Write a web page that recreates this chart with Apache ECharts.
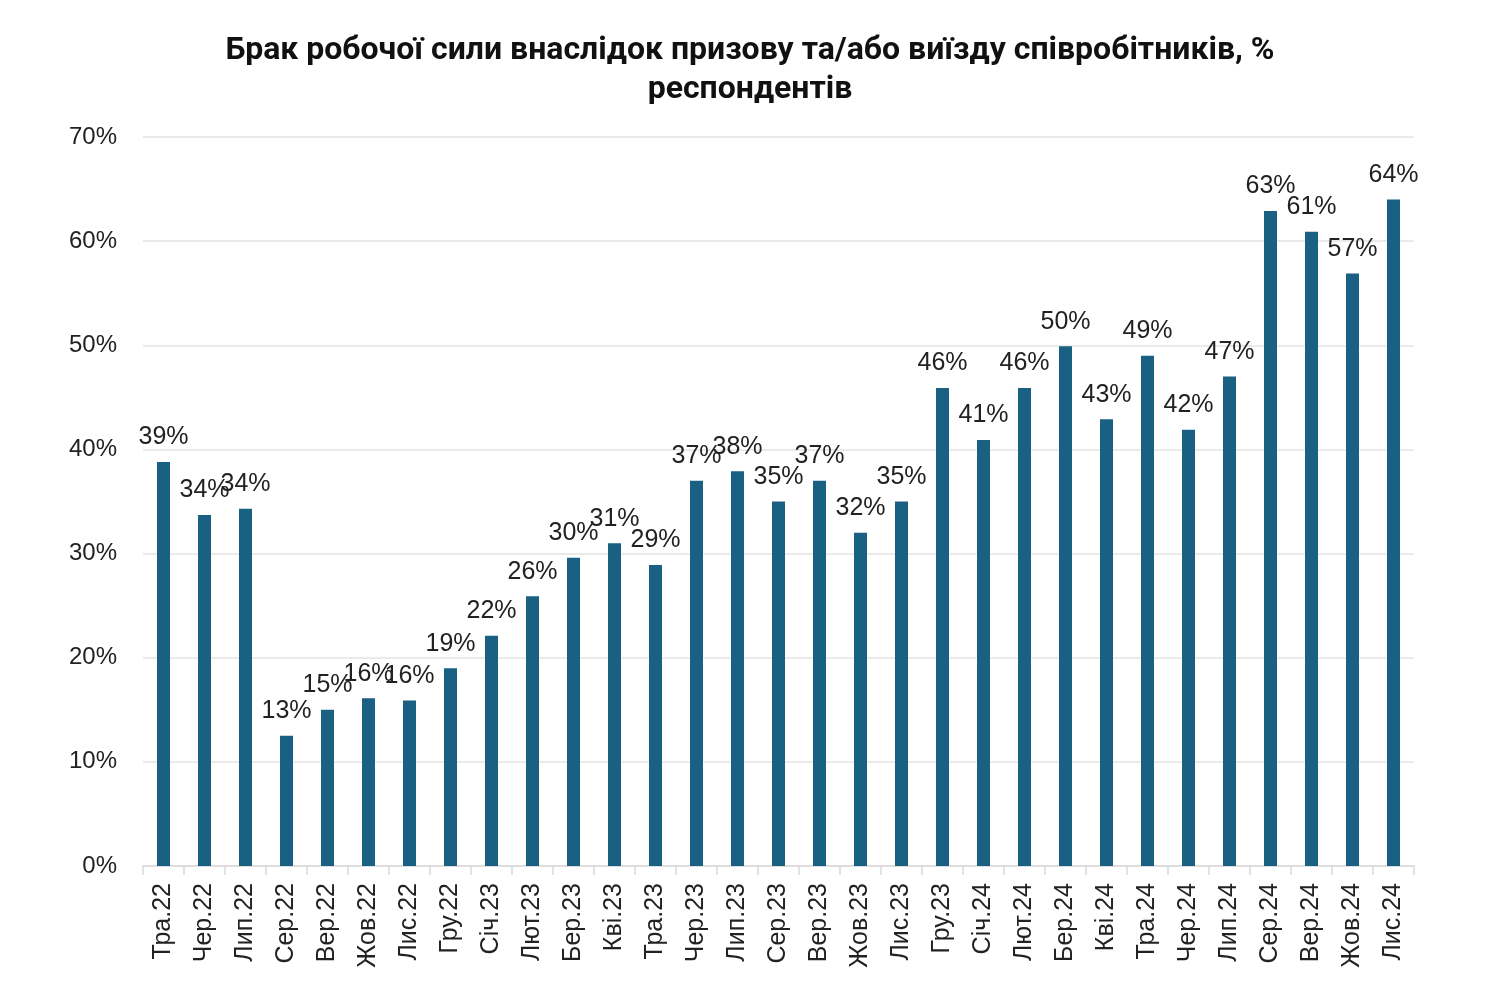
<!DOCTYPE html>
<html>
<head>
<meta charset="utf-8">
<script src="https://cdn.jsdelivr.net/npm/echarts@6/dist/echarts.min.js"></script>
<style>
html,body{margin:0;padding:0;background:#fff;}
#chart{width:1500px;height:985px;}
</style>
</head>
<body>
<div id="chart"></div>
<script>
const categories = ['Тра.22','Чер.22','Лип.22','Сер.22','Вер.22','Жов.22','Лис.22','Гру.22','Січ.23','Лют.23','Бер.23','Кві.23','Тра.23','Чер.23','Лип.23','Сер.23','Вер.23','Жов.23','Лис.23','Гру.23','Січ.24','Лют.24','Бер.24','Кві.24','Тра.24','Чер.24','Лип.24','Сер.24','Вер.24','Жов.24','Лис.24'];
const values = [38.8,33.7,34.3,12.5,15.0,16.1,15.9,19.0,22.1,25.9,29.6,31.0,28.9,37.0,37.9,35.0,37.0,32.0,35.0,45.9,40.9,45.9,49.9,42.9,49.0,41.9,47.0,62.9,60.9,56.9,64.0];
const titleText = 'Брак робочої сили внаслідок призову та/або виїзду співробітників, %\nреспондентів';

const chart = echarts.init(document.getElementById('chart'));
chart.setOption({
  backgroundColor: '#ffffff',
  animation: false,
  title: {
    text: titleText,
    left: 'center',
    top: 26,
    textStyle: {fontFamily: 'Roboto', fontWeight: 'bold', fontSize: 32, color: '#111', lineHeight: 39}
  },
  grid: {left: 143, right: 86, top: 137, bottom: 119, containLabel: false},
  xAxis: {
    type: 'category',
    data: categories,
    axisLine: {lineStyle: {color: '#d9d9d9', width: 1.5}},
    axisTick: {show: true, alignWithLabel: false, length: 9, lineStyle: {color: '#d9d9d9', width: 1.5}},
    axisLabel: {rotate: 90, margin: 17, fontFamily: 'Liberation Sans', fontSize: 25, color: '#222', interval: 0}
  },
  yAxis: {
    type: 'value',
    min: 0, max: 70, interval: 10,
    axisLine: {show: false},
    axisTick: {show: false},
    splitLine: {lineStyle: {color: '#e3e3e3', width: 1.5}},
    axisLabel: {formatter: v => v + '%', margin: 26, fontFamily: 'Liberation Sans', fontSize: 24, color: '#222'}
  },
  series: [{
    type: 'bar',
    data: values,
    barWidth: 13,
    itemStyle: {color: '#196082'},
    label: {
      show: true,
      position: 'top',
      distance: 12,
      formatter: p => Math.round(p.value) + '%',
      fontFamily: 'Liberation Sans',
      fontSize: 25,
      color: '#222'
    }
  }]
});
</script>
</body>
</html>
